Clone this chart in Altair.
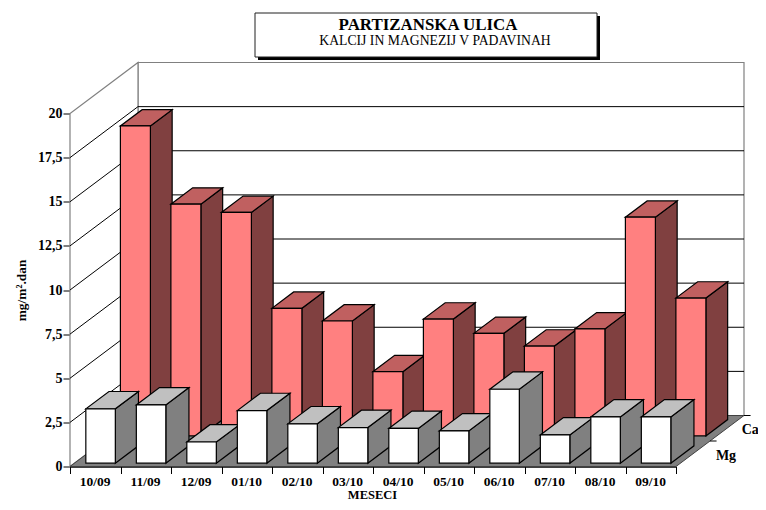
import altair as alt
import pandas as pd

months = ["10/09", "11/09", "12/09", "01/10", "02/10", "03/10",
          "04/10", "05/10", "06/10", "07/10", "08/10", "09/10"]
ca = [17.56, 13.13, 12.66, 7.23, 6.51, 3.64, 6.62, 5.81, 5.09, 6.06, 12.39, 7.81]
mg = [3.08, 3.30, 1.20, 2.98, 2.23, 2.02, 1.97, 1.83, 4.19, 1.60, 2.62, 2.62]
y_ticks = [0, 2.5, 5, 7.5, 10, 12.5, 15, 17.5, 20]

FONT = "Liberation Serif"
DX = 68 / 50.5   # one unit of depth, in categories
DY = 51 / 17.65  # one unit of depth, in mg/m2.dan
N = len(months)

face_names = ["wall", "floor", "ca_front", "ca_side", "ca_top", "mg_front", "mg_side", "mg_top"]
face_cols = ["#FFFFFF", "#808080", "#FF8080", "#804040", "#C06060", "#FFFFFF", "#808080", "#C0C0C0"]

def box(rows, key, name, left, width, value, d0, d1):
    """front, side and top of one bar, sheared by its depth"""
    xa = left + d0 * DX
    xb = xa + width
    sx = (d1 - d0) * DX
    sy = (d1 - d0) * DY
    y0 = d0 * DY
    yt = value + d0 * DY
    for x, lo, hi in [(xb, y0, yt), (xb + sx, y0 + sy, yt + sy)]:
        rows.append(dict(id=f"{key}s", face=f"{name}_side", x=x, y=lo, y2=hi))
    for x, lo, hi in [(xa, yt, yt), (xa + sx, yt, yt + sy), (xb, yt, yt + sy), (xb + sx, yt + sy, yt + sy)]:
        rows.append(dict(id=f"{key}t", face=f"{name}_top", x=x, y=lo, y2=hi))
    for x in (xa, xb):
        rows.append(dict(id=f"{key}f", face=f"{name}_front", x=x, y=y0, y2=yt))

bars = []
for i, v in enumerate(ca):
    box(bars, f"ca{i:02d}", "ca", i + 0.19, 0.594, v, 0.60, 0.92)
for i, v in enumerate(mg):
    box(bars, f"mg{i:02d}", "mg", i + 0.226, 0.584, v, 0.065, 0.405)

top = y_ticks[-1]
walls = pd.DataFrame([
    dict(id="back", face="wall", x=DX, y=DY, y2=top + DY),
    dict(id="back", face="wall", x=N + DX, y=DY, y2=top + DY),
    dict(id="left", face="wall", x=0, y=0, y2=top),
    dict(id="left", face="wall", x=DX, y=DY, y2=top + DY),
])
floor = pd.DataFrame([
    dict(id="floor", face="floor", x=0, y=0, y2=0),
    dict(id="floor", face="floor", x=DX, y=0, y2=DY),
    dict(id="floor", face="floor", x=N, y=0, y2=DY),
    dict(id="floor", face="floor", x=N + DX, y=DY, y2=DY),
])
grid = pd.DataFrame([
    dict(id=v, x=x, y=v + d * DY)
    for v in y_ticks[1:-1] for x, d in [(0, 0), (DX, 1), (N + DX, 1)]
])
depth_ticks = pd.DataFrame([
    dict(id=d, x=N + d * DX + off, y=d * DY)
    for d in (0.5, 1.0) for off in (0, 0.13)
])
series_labels = pd.DataFrame([
    dict(label="Mg", x=N + 0.79, y=0.6),
    dict(label="Ca", x=N + 1.3, y=2.07),
])

xs = alt.Scale(domain=[0, N], range=[0, 606], nice=False, zero=False)
ys = alt.Scale(domain=[0, top], range=[404, 51], nice=False, zero=False)
cs = alt.Scale(domain=face_names, range=face_cols)

label_array = "[" + ",".join(f"'{m}'" for m in months) + "]"
x_enc = alt.X("x:Q", scale=xs, axis=alt.Axis(
    values=list(range(N + 1)), grid=False, title="MESECI", titleX=302, titleY=32,
    titleBaseline="alphabetic",
    labelExpr=f"{label_array}[datum.value] || ''", labelOffset=24.5, labelPadding=1,
    labelFlush=False, labelOverlap=False, labelAngle=0, labelFontSize=13.5, labelFontWeight="bold",
    titleFontSize=12.5, titleFontWeight="bold", labelFont=FONT, titleFont=FONT,
    labelColor="black", titleColor="black", domainColor="black", domainWidth=1.5,
    tickColor="black", tickSize=7, tickWidth=1,
))
y_enc = alt.Y("y:Q", scale=ys, axis=alt.Axis(
    values=y_ticks, grid=False, title="mg/m².dan", titleX=-42, titleY=227.5,
    labelExpr="replace(''+datum.value,'.',',')", labelPadding=1, labelOverlap=False,
    labelFontSize=14, labelFontWeight="bold", titleFontSize=13.4, titleFontWeight="bold",
    labelFont=FONT, titleFont=FONT, labelColor="black", titleColor="black",
    domainColor="black", domainWidth=1, tickColor="black", tickSize=7, tickWidth=1,
))

def faces(df, stroke, sw):
    return alt.Chart(df).mark_area(orient="vertical", stroke=stroke, strokeWidth=sw, opacity=1).encode(
        x=x_enc, y=y_enc, y2="y2:Q", detail="id:N",
        color=alt.Color("face:N", scale=cs, legend=None),
    )

wall_layer = faces(walls, "#808080", 1.2)
floor_layer = faces(floor, "#404040", 1)
grid_layer = alt.Chart(grid).mark_line(color="black", strokeWidth=1).encode(
    x=x_enc, y=y_enc, detail="id:N")
bar_layer = faces(pd.DataFrame(bars), "black", 1.2)
tick_layer = alt.Chart(depth_ticks).mark_line(color="black", strokeWidth=1).encode(
    x=x_enc, y=y_enc, detail="id:N")
label_layer = alt.Chart(series_labels).mark_text(
    align="left", baseline="middle", font=FONT, fontWeight="bold", fontSize=14, color="black"
).encode(x=x_enc, y=y_enc, text="label:N")

# title box (positions relative to the plot's top-left corner)
shadow = alt.Chart(pd.DataFrame({"a": [0]})).mark_rect(color="black").encode(
    x=alt.value(188), x2=alt.value(530), y=alt.value(-46.5), y2=alt.value(-2.5))
panel = alt.Chart(pd.DataFrame({"a": [0]})).mark_rect(fill="white", stroke="#202020", strokeWidth=1).encode(
    x=alt.value(185), x2=alt.value(527), y=alt.value(-49.5), y2=alt.value(-5.5))
title1 = alt.Chart(pd.DataFrame({"t": ["PARTIZANSKA ULICA"]})).mark_text(
    font=FONT, fontWeight="bold", fontSize=16.9, color="black", align="center", baseline="alphabetic"
).encode(x=alt.value(358), y=alt.value(-32.5), text="t:N")
title2 = alt.Chart(pd.DataFrame({"t": ["KALCIJ IN MAGNEZIJ V PADAVINAH"]})).mark_text(
    font=FONT, fontSize=13.7, color="black", align="center", baseline="alphabetic"
).encode(x=alt.value(365), y=alt.value(-17.5), text="t:N")

chart = alt.layer(
    wall_layer, floor_layer, grid_layer, bar_layer, tick_layer, label_layer,
    shadow, panel, title1, title2,
).properties(
    width=676, height=404,
    padding={"left": 62, "top": 54.5, "right": 12, "bottom": 35},
    autosize=alt.AutoSizeParams(type="none"),
    background="white",
).resolve_scale(x="shared", y="shared", color="shared").configure_view(stroke=None)

chart.save("out.html", embed_options={"renderer": "svg", "actions": False})
